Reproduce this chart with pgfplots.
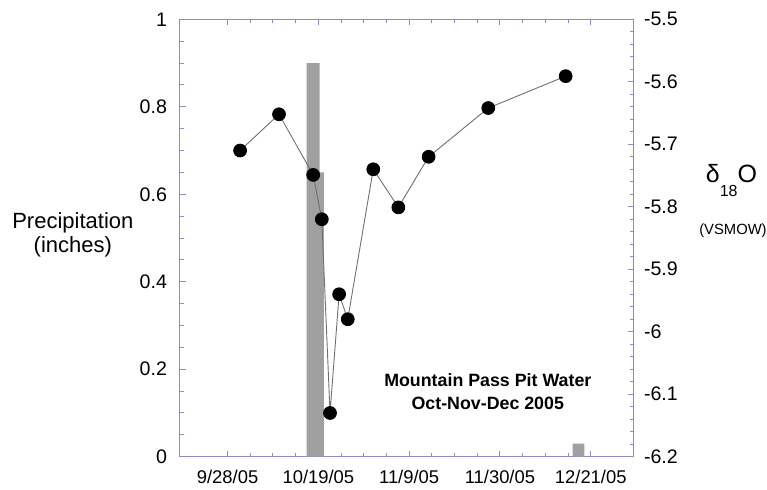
\documentclass[border=0pt]{standalone}
\usepackage{fontspec}
\setmainfont{Liberation Sans}
\usepackage{pgfplots}
\pgfplotsset{compat=1.18}
\definecolor{axiscol}{HTML}{8C8CC8}
\definecolor{barcol}{HTML}{A0A0A0}
\definecolor{linecol}{HTML}{707070}

\begin{document}
\begin{tikzpicture}
\useasboundingbox (-90pt,-16.15pt) rectangle (293.5pt,228.35pt);
\pgfplotsset{
  common/.style={
    scale only axis, width=227pt, height=218.7pt,
    at={(0,0)}, anchor=south west,
    xmin=-11, xmax=94,
    clip=false,
    axis line style={axiscol, line width=0.5pt},
    tick style={axiscol, line width=0.5pt},
    major tick length=3pt, minor tick length=2pt,
    tick align=inside,
    /pgf/number format/assume math mode=true,
  },
}
% precipitation (left axis)
\begin{axis}[common,
  ymin=0, ymax=1,
  ytick={0,0.2,0.4,0.6,0.8,1}, minor y tick num=3,
  yticklabels={0,0.2,0.4,0.6,0.8,1},
  ytick pos=left,
  xtick={0,21,42,63,84}, minor x tick num=3,
  xticklabels={9/28/05,10/19/05,11/9/05,11/30/05,12/21/05},
  xtick pos=both,
  x tick label style={font=\fontsize{9.2}{10}\selectfont, yshift=-3pt},
  y tick label style={font=\fontsize{9.8}{11}\selectfont, xshift=-3pt},
]
\addplot[fill=barcol, draw=none] coordinates {
 (18.3,0) (18.3,0.9) (21.3,0.9) (21.3,0.65) (22.3,0.65) (22.3,0)} \closedcycle;
\addplot[fill=barcol, draw=none] coordinates {
 (79.8,0) (79.8,0.03) (82.5,0.03) (82.5,0)} \closedcycle;
\node[align=center, font=\fontsize{11}{12}\selectfont] at (rel axis cs:-0.236,0.508)
  {Precipitation\\(inches)};
\node[align=center, font=\bfseries\fontsize{8.9}{11.3}\selectfont] at (rel axis cs:0.678,0.149)
  {Mountain Pass Pit Water\\Oct-Nov-Dec 2005};
\end{axis}
% delta 18O (right axis)
\begin{axis}[common,
  ymin=-6.2, ymax=-5.5,
  axis y line*=right, axis x line=none,
  ytick={-6.2,-6.1,-6,-5.9,-5.8,-5.7,-5.6,-5.5}, minor y tick num=4,
  yticklabels={-6.2,-6.1,-6,-5.9,-5.8,-5.7,-5.6,-5.5},
  y tick label style={font=\fontsize{9.8}{11}\selectfont, xshift=1.5pt},
]
\addplot[linecol, line width=0.45pt, mark=*, mark size=3.2pt,
  mark options={fill=black, draw=black}] coordinates {
 (2.9,-5.710) (11.9,-5.652) (19.8,-5.749) (21.8,-5.820) (23.7,-6.130)
 (25.8,-5.940) (27.8,-5.980) (33.7,-5.740) (39.5,-5.801) (46.5,-5.720)
 (60.3,-5.642) (78.2,-5.591)};
\node[font=\fontsize{12.5}{13}\selectfont, anchor=base] at (rel axis cs:1.2148,0.626)
  {δ\raisebox{-1.05ex}{\fontsize{8}{9}\selectfont 18}O};
\node[font=\fontsize{7.4}{8}\selectfont] at (rel axis cs:1.218,0.516) {(VSMOW)};
\end{axis}
\end{tikzpicture}
\end{document}
